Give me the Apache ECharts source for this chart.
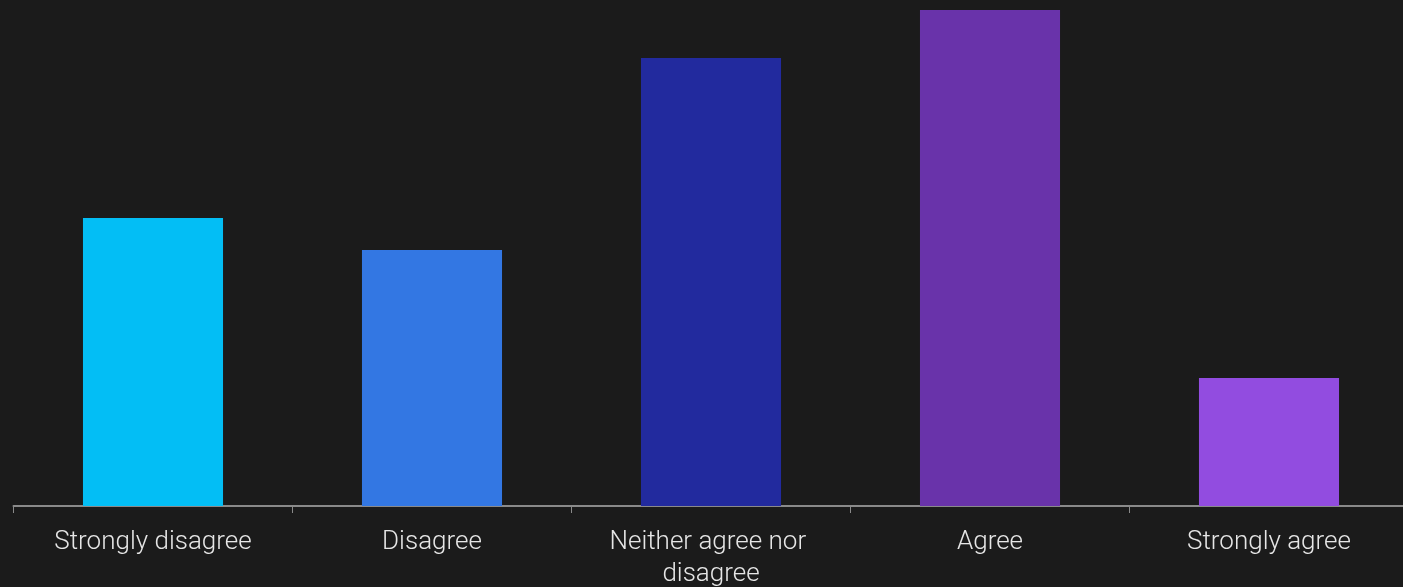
<!DOCTYPE html>
<html>
<head>
<meta charset="utf-8">
<script src="https://cdn.jsdelivr.net/npm/echarts@6/dist/echarts.min.js"></script>
<style>
  html, body { margin: 0; padding: 0; background: #1b1b1b; }
  #main { width: 1403px; height: 587px; }
</style>
</head>
<body>
<div id="main"></div>
<script>
var categories = ['Strongly disagree', 'Disagree', 'Neither agree nor disagree', 'Agree', 'Strongly agree'];
var values = [18, 16, 28, 31, 8];
var barColors = ['#03bef5', '#3377e3', '#222a9e', '#6933aa', '#924ce0'];

var chart = echarts.init(document.getElementById('main'));
var option = {
    backgroundColor: '#1b1b1b',
    grid: {
        left: 13.5,
        width: 1395,
        top: 10,
        bottom: 81,
        outerBoundsMode: 'none'
    },
    xAxis: {
        type: 'category',
        data: categories,
        axisLine: { lineStyle: { color: '#8a8a8a', width: 2 } },
        axisTick: { show: true, length: 7, lineStyle: { color: '#8a8a8a', width: 1 } },
        axisLabel: {
            color: '#e6e6e6',
            fontFamily: 'Roboto',
            fontWeight: 300,
            fontSize: 26,
            lineHeight: 32,
            margin: 20,
            width: 260,
            overflow: 'break',
            interval: 0
        }
    },
    yAxis: {
        type: 'value',
        min: 0,
        max: 31,
        show: false,
        splitLine: { show: false }
    },
    series: [
        {
            type: 'bar',
            barWidth: '50.2%',
            data: values.map(function (v, i) {
                return { value: v, itemStyle: { color: barColors[i] } };
            })
        }
    ]
};
chart.setOption(option);
</script>
</body>
</html>
